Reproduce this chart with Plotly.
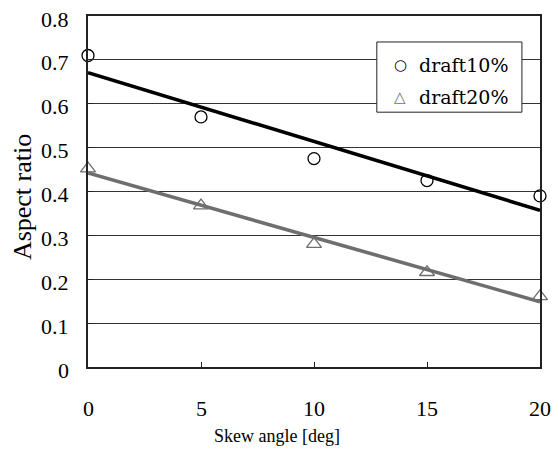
import numpy as np
import plotly.graph_objects as go

# Measured aspect ratio against skew angle for two draft conditions
skew_angle = [0, 5, 10, 15, 20]
draft10 = [0.71, 0.57, 0.475, 0.425, 0.39]
draft20 = [0.452, 0.368, 0.28, 0.216, 0.161]

x_ticks = [0, 5, 10, 15, 20]
y_ticks = [0, 0.1, 0.2, 0.3, 0.4, 0.5, 0.6, 0.7, 0.8]

series_names = ["draft10%", "draft20%"]
series_glyphs = ["\u25cb", "\u25b3"]
series_colors = ["black", "#6e6e6e"]

FONT = "Liberation Serif"
KEY_FONT = "DejaVu Serif"


def linear_trend(x, y):
    slope, intercept = np.polyfit(x, y, 1)
    xs = np.array([min(x), max(x)])
    return xs, slope * xs + intercept


def serif(size, color="black", family=FONT):
    return dict(family=family, size=size, color=color)


fig = go.Figure()

series = [
    (series_names[0], draft10, "circle-open", series_colors[0]),
    (series_names[1], draft20, "triangle-up-open", series_colors[1]),
]

# Measured points
for name, ys, symbol, color in series:
    fig.add_trace(go.Scatter(
        x=skew_angle, y=ys, name=name, mode="markers", showlegend=False,
        marker=dict(symbol=symbol, size=12 if "circle" in symbol else 13,
                    color=color, line=dict(width=1.3, color=color)),
        cliponaxis=False,
    ))

# Least-squares trend lines, drawn above the markers
for name, ys, symbol, color in series:
    tx, ty = linear_trend(skew_angle, ys)
    fig.add_trace(go.Scatter(
        x=tx, y=ty, mode="lines", showlegend=False, hoverinfo="skip",
        line=dict(color=color, width=3.6), cliponaxis=False,
    ))

# Tick labels as serif text annotations tied to the axes
for v in x_ticks:
    fig.add_annotation(
        text=str(v), x=v, xref="x", y=0, yref="paper",
        xanchor="center", yanchor="middle", yshift=-41,
        showarrow=False, font=serif(22),
    )
for v in y_ticks:
    fig.add_annotation(
        text="0" if v == 0 else f"{v:.1f}", x=0, xref="paper", y=v, yref="y",
        xanchor="right", yanchor="middle", xshift=-17, yshift=-3,
        showarrow=False, font=serif(22),
    )

# Axis titles
fig.add_annotation(
    text="Skew angle [deg]", xref="paper", yref="paper",
    x=0.418, y=-0.197, xanchor="center", yanchor="middle", showarrow=False,
    font=serif(18),
)
fig.add_annotation(
    text="Aspect ratio", xref="paper", yref="paper", textangle=-90,
    x=-0.146, y=0.484, xanchor="center", yanchor="middle", showarrow=False,
    font=serif(26),
)

# Boxed key in the upper right of the plot area
fig.add_shape(
    type="rect", xref="paper", yref="paper",
    x0=0.639, x1=0.960, y0=0.726, y1=0.926,
    line=dict(color="#222", width=1), fillcolor="white", layer="above",
)
for i, (name, glyph, color) in enumerate(zip(series_names, series_glyphs, series_colors)):
    row_y = 0.860 - i * 0.091
    fig.add_annotation(
        text=glyph, xref="paper", yref="paper", x=0.691, y=row_y,
        xanchor="center", yanchor="middle", showarrow=False,
        font=dict(family="DejaVu Sans", size=15, color=color),
    )
    fig.add_annotation(
        text=name, xref="paper", yref="paper", x=0.728, y=row_y,
        xanchor="left", yanchor="middle", showarrow=False,
        font=serif(19, family=KEY_FONT),
    )

fig.update_layout(
    width=559, height=450,
    margin=dict(l=88, r=19, t=16, b=83),
    paper_bgcolor="white", plot_bgcolor="white",
    font=dict(family=FONT, color="black"),
    showlegend=False,
    xaxis=dict(
        range=[0, 20], tickvals=x_ticks, showticklabels=False,
        ticks="inside", ticklen=5, tickcolor="#222",
        showline=True, linecolor="#222", linewidth=1.5, mirror=True,
        showgrid=False, zeroline=False,
    ),
    yaxis=dict(
        range=[0, 0.8], tickvals=y_ticks, showticklabels=False,
        ticks="inside", ticklen=5, tickcolor="#222",
        showline=True, linecolor="#222", linewidth=1.5, mirror=True,
        showgrid=True, gridcolor="#333", gridwidth=1, zeroline=False,
    ),
)

fig.write_html("out.html")
